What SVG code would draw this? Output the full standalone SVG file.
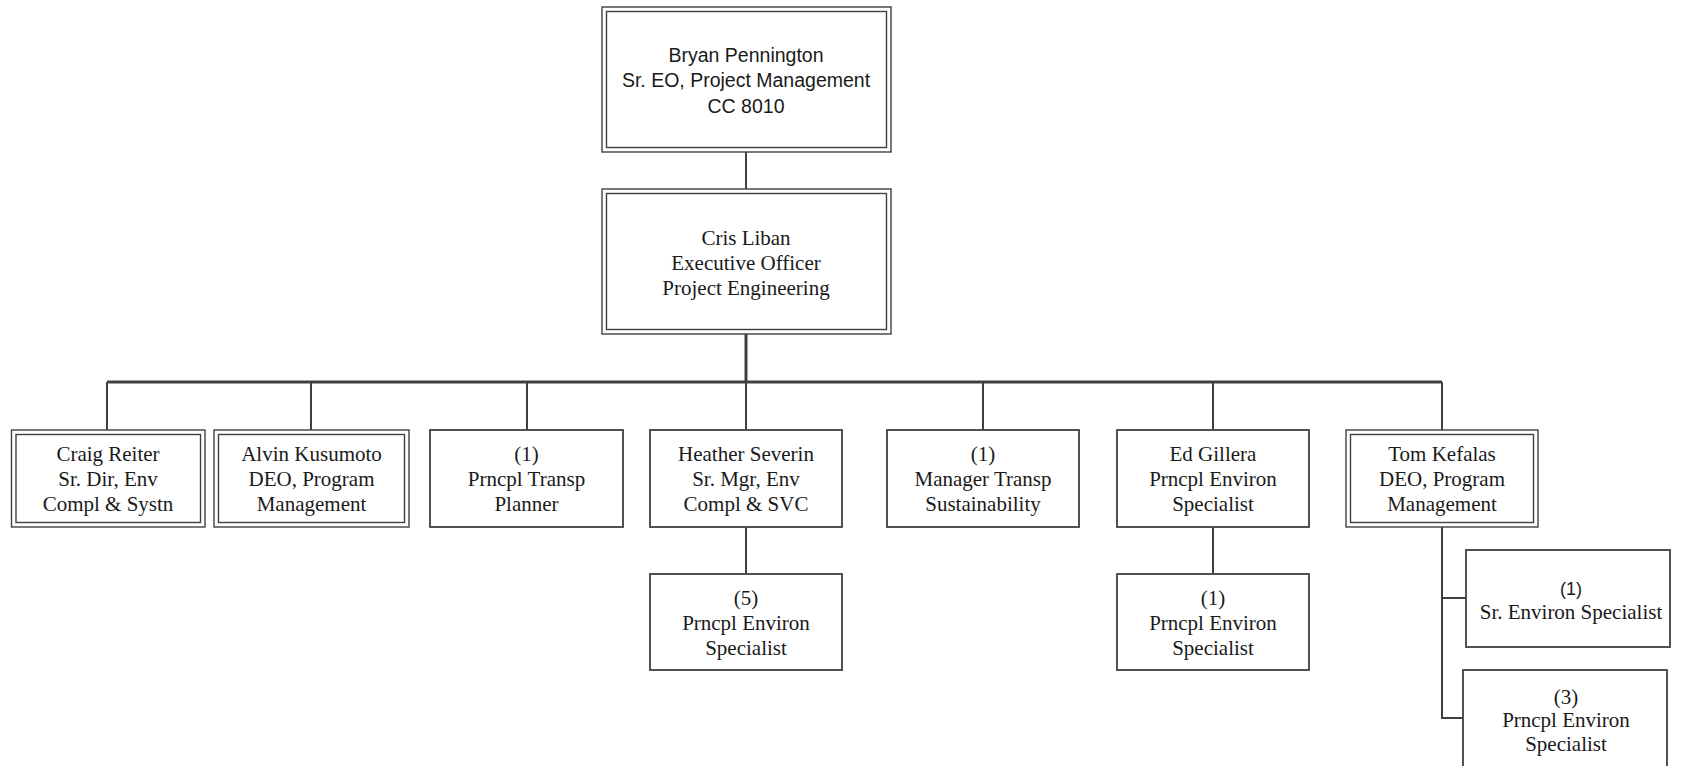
<svg xmlns="http://www.w3.org/2000/svg" width="1687" height="766" viewBox="0 0 1687 766">
<style>
  .bg{fill:#ffffff}
  .box{fill:#ffffff;stroke:#404040;stroke-width:1.8}
  .dbl{fill:none;stroke:#404040;stroke-width:1.4}
  .con{fill:none;stroke:#404040;stroke-width:2}
  .bus{fill:none;stroke:#404040;stroke-width:3}
  .t{font-family:"Liberation Serif","Times New Roman",serif;font-size:21px;fill:#1a1a1a;text-anchor:middle}
  .s{font-family:"Liberation Sans",Arial,sans-serif;font-size:19.5px;fill:#1a1a1a;text-anchor:middle}
</style>
<rect class="bg" x="0" y="0" width="1687" height="766"/>
<g id="connectors">
  <path class="con" d="M746 152 V189"/>
  <path class="bus" d="M746 334 V382"/>
  <path class="bus" d="M107 382 H1442"/>
  <path class="con" d="M107 382 V430 M311 382 V430 M527 382 V430 M746 382 V430 M983 382 V430 M1213 382 V430 M1442 382 V430"/>
  <path class="con" d="M746 527 V574"/>
  <path class="con" d="M1213 527 V574"/>
  <path class="con" d="M1442 527 V718 H1463 M1442 598 H1466"/>
</g>
<g id="bryan">
  <rect class="dbl" x="602" y="7" width="289" height="145"/>
  <rect class="dbl" x="606.5" y="11.5" width="280" height="136"/>
  <text class="s" x="746" y="62">Bryan Pennington</text>
  <text class="s" x="746" y="87">Sr. EO, Project Management</text>
  <text class="s" x="746" y="113">CC 8010</text>
</g>
<g id="cris">
  <rect class="dbl" x="602" y="189" width="289" height="145"/>
  <rect class="dbl" x="606.5" y="193.5" width="280" height="136"/>
  <text class="t" x="746" y="245">Cris Liban</text>
  <text class="t" x="746" y="270">Executive Officer</text>
  <text class="t" x="746" y="295">Project Engineering</text>
</g>
<g id="craig">
  <rect class="dbl" x="11.5" y="430" width="193.5" height="97"/>
  <rect class="dbl" x="16" y="434.5" width="184.5" height="88"/>
  <text class="t" x="108" y="461">Craig Reiter</text>
  <text class="t" x="108" y="486">Sr. Dir, Env</text>
  <text class="t" x="108" y="511">Compl &amp; Systn</text>
</g>
<g id="alvin">
  <rect class="dbl" x="214" y="430" width="195" height="97"/>
  <rect class="dbl" x="218.5" y="434.5" width="186" height="88"/>
  <text class="t" x="311.5" y="461">Alvin Kusumoto</text>
  <text class="t" x="311.5" y="486">DEO, Program</text>
  <text class="t" x="311.5" y="511">Management</text>
</g>
<g id="transp-planner">
  <rect class="box" x="430" y="430" width="193" height="97"/>
  <text class="t" x="526.5" y="461">(1)</text>
  <text class="t" x="526.5" y="486">Prncpl Transp</text>
  <text class="t" x="526.5" y="511">Planner</text>
</g>
<g id="heather">
  <rect class="box" x="650" y="430" width="192" height="97"/>
  <text class="t" x="746" y="461">Heather Severin</text>
  <text class="t" x="746" y="486">Sr. Mgr, Env</text>
  <text class="t" x="746" y="511">Compl &amp; SVC</text>
</g>
<g id="heather-staff">
  <rect class="box" x="650" y="574" width="192" height="96"/>
  <text class="t" x="746" y="605">(5)</text>
  <text class="t" x="746" y="630">Prncpl Environ</text>
  <text class="t" x="746" y="655">Specialist</text>
</g>
<g id="manager-transp">
  <rect class="box" x="887" y="430" width="192" height="97"/>
  <text class="t" x="983" y="461">(1)</text>
  <text class="t" x="983" y="486">Manager Transp</text>
  <text class="t" x="983" y="511">Sustainability</text>
</g>
<g id="ed">
  <rect class="box" x="1117" y="430" width="192" height="97"/>
  <text class="t" x="1213" y="461">Ed Gillera</text>
  <text class="t" x="1213" y="486">Prncpl Environ</text>
  <text class="t" x="1213" y="511">Specialist</text>
</g>
<g id="ed-staff">
  <rect class="box" x="1117" y="574" width="192" height="96"/>
  <text class="t" x="1213" y="605">(1)</text>
  <text class="t" x="1213" y="630">Prncpl Environ</text>
  <text class="t" x="1213" y="655">Specialist</text>
</g>
<g id="tom">
  <rect class="dbl" x="1346" y="430" width="192" height="97"/>
  <rect class="dbl" x="1350.5" y="434.5" width="183" height="88"/>
  <text class="t" x="1442" y="461">Tom Kefalas</text>
  <text class="t" x="1442" y="486">DEO, Program</text>
  <text class="t" x="1442" y="511">Management</text>
</g>
<g id="sr-environ">
  <rect class="box" x="1466" y="550" width="204" height="97"/>
  <text class="s" x="1571" y="595" style="font-size:18px">(1)</text>
  <text class="t" x="1571" y="619">Sr. Environ Specialist</text>
</g>
<g id="prncpl-environ">
  <rect class="box" x="1463" y="670" width="204" height="98"/>
  <text class="t" x="1566" y="704">(3)</text>
  <text class="t" x="1566" y="727">Prncpl Environ</text>
  <text class="t" x="1566" y="751">Specialist</text>
</g>
</svg>
